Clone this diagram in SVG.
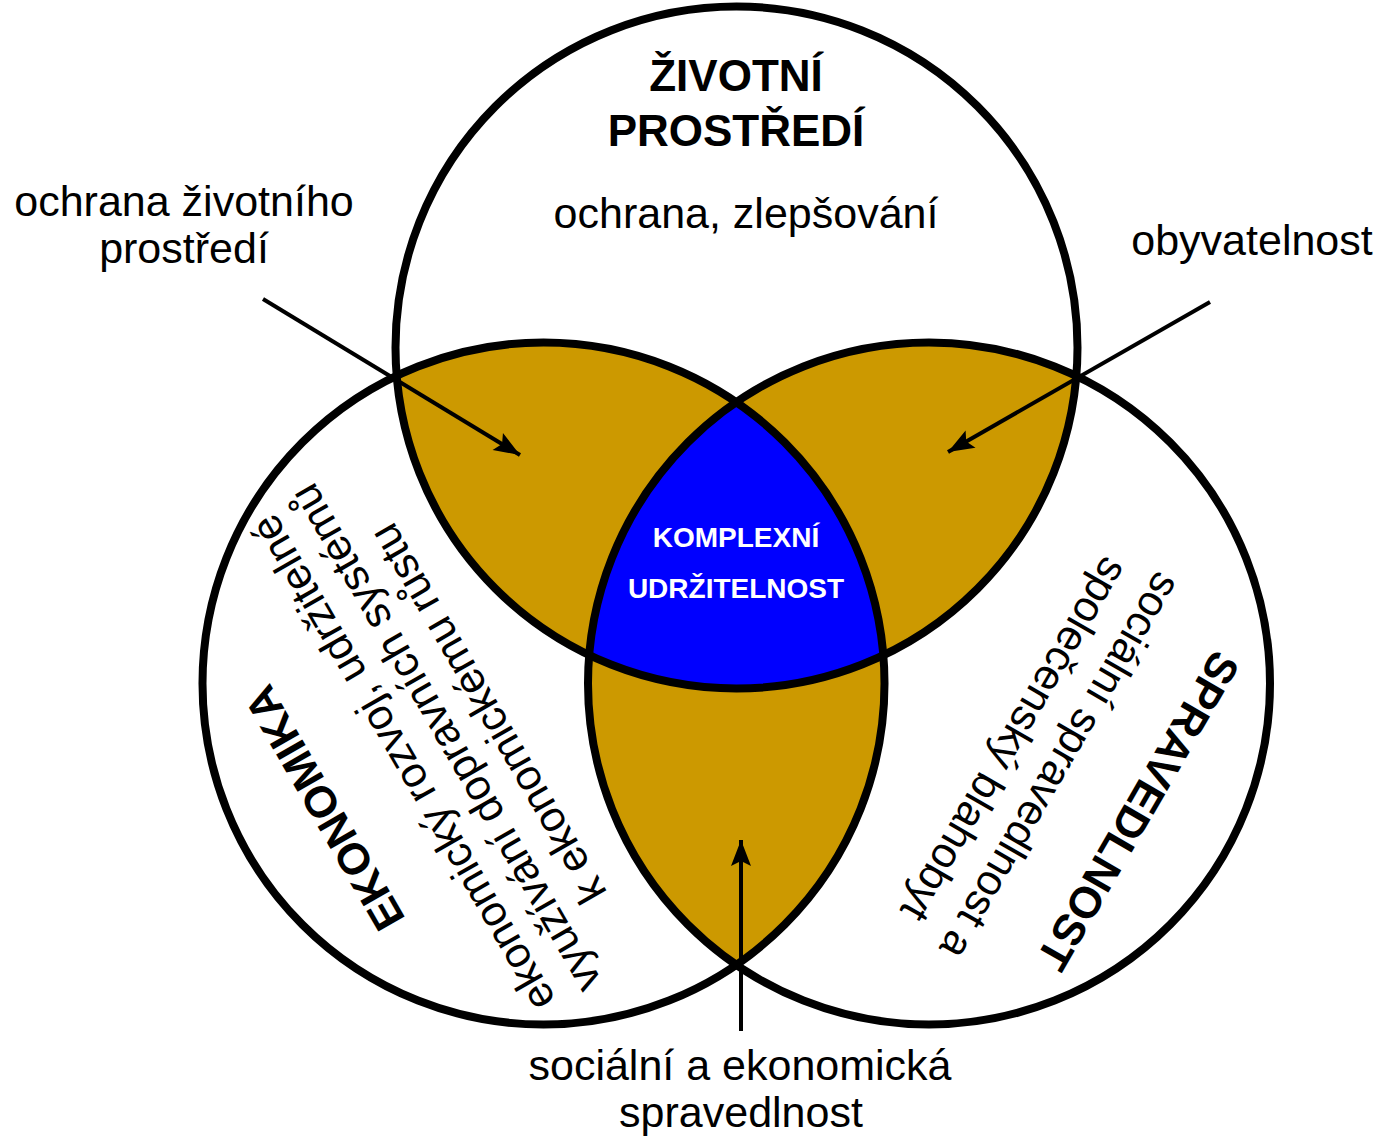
<svg xmlns="http://www.w3.org/2000/svg" width="1381" height="1138" viewBox="0 0 1381 1138">
<style>
.lbl{font-family:"Liberation Sans",Arial,sans-serif;font-size:43px;fill:#000;text-anchor:middle}
.ttl{font-family:"Liberation Sans",Arial,sans-serif;font-size:44px;font-weight:bold;fill:#000;text-anchor:middle}
.core{font-family:"Liberation Sans",Arial,sans-serif;font-size:28px;font-weight:bold;fill:#fff;text-anchor:middle}
.ring{fill:none;stroke:#000;stroke-width:8}
.gold{fill:#CC9900}
.blue{fill:#0000FF}
.arrow{fill:none;stroke:#000;stroke-width:4;marker-end:url(#ah)}
</style>
<defs>
<clipPath id="cT"><circle cx="736.5" cy="347.5" r="341"/></clipPath>
<clipPath id="cR"><circle cx="929" cy="683.5" r="341"/></clipPath>
<marker id="ah" markerUnits="userSpaceOnUse" markerWidth="28" markerHeight="22" refX="26" refY="10" orient="auto" overflow="visible">
<path d="M0,0 L26,10 L0,20 L5,10 z" fill="#000"/>
</marker>
</defs>
<rect width="1381" height="1138" fill="#fff"/>
<g id="overlaps">
<circle class="gold" cx="543.5" cy="683.5" r="341" clip-path="url(#cT)"/>
<circle class="gold" cx="929" cy="683.5" r="341" clip-path="url(#cT)"/>
<circle class="gold" cx="543.5" cy="683.5" r="341" clip-path="url(#cR)"/>
<g clip-path="url(#cT)"><circle class="blue" cx="543.5" cy="683.5" r="341" clip-path="url(#cR)"/></g>
</g>
<g id="node-zivotni-prostredi">
<circle class="ring" cx="736.5" cy="347.5" r="341"/>
<text class="ttl" x="736" y="91">ŽIVOTNÍ</text>
<text class="ttl" x="736" y="146">PROSTŘEDÍ</text>
<text class="lbl" x="746" y="228">ochrana, zlepšování</text>
</g>
<g id="node-ekonomika">
<circle class="ring" cx="543.5" cy="683.5" r="341"/>
<g transform="translate(431,746.5) rotate(-120)">
<text class="ttl" x="0" y="-108">EKONOMIKA</text>
<text class="lbl" x="0" y="-18">ekonomický rozvoj, udržitelné</text>
<text class="lbl" x="0" y="31">využívání dopravních systémů</text>
<text class="lbl" x="0" y="80">k ekonomickému růstu</text>
</g>
</g>
<g id="node-spravedlnost">
<circle class="ring" cx="929" cy="683.5" r="341"/>
<g transform="translate(1057.5,764.2) rotate(120)">
<text class="ttl" x="0" y="-78">SPRAVEDLNOST</text>
<text class="lbl" x="0" y="11">sociální spravedlnost a</text>
<text class="lbl" x="0" y="64">společenský blahobyt</text>
</g>
</g>
<g id="node-komplexni-udrzitelnost">
<text class="core" x="736" y="547">KOMPLEXNÍ</text>
<text class="core" x="736" y="598">UDRŽITELNOST</text>
</g>
<g id="label-ochrana">
<text class="lbl" x="184" y="216">ochrana životního</text>
<text class="lbl" x="184" y="263">prostředí</text>
</g>
<g id="label-obyvatelnost">
<text class="lbl" x="1252" y="255">obyvatelnost</text>
</g>
<g id="label-socialni">
<text class="lbl" x="740" y="1080">sociální a ekonomická</text>
<text class="lbl" x="741" y="1127">spravedlnost</text>
</g>
<g id="connectors">
<line class="arrow" x1="263" y1="299" x2="520" y2="455"/>
<line class="arrow" x1="1210" y1="302" x2="948" y2="452"/>
<line class="arrow" x1="741" y1="1031" x2="741" y2="840"/>
</g>
</svg>
